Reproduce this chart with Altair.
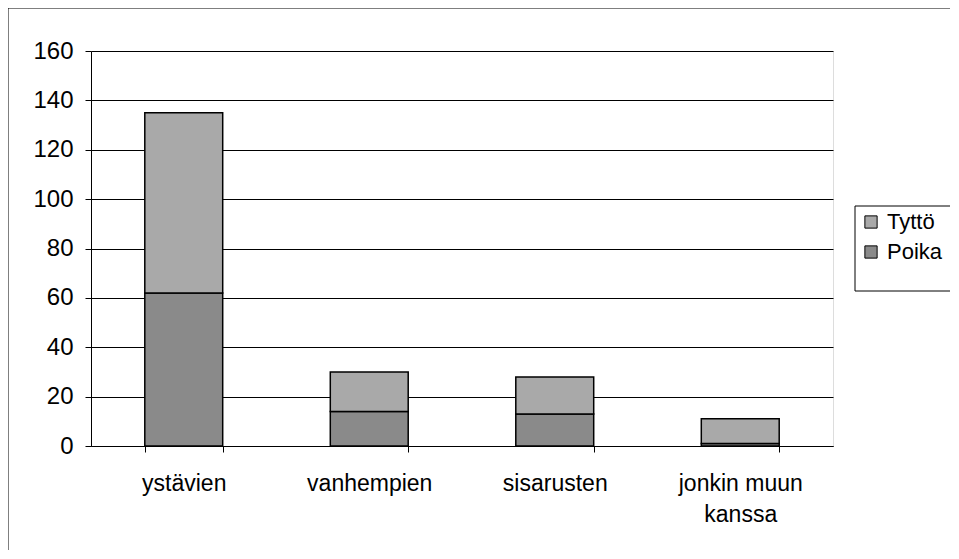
import altair as alt
import pandas as pd

categories = ["ystävien", "vanhempien", "sisarusten", "jonkin muun kanssa"]
poika = [62, 14, 13, 1]
tytto = [73, 16, 15, 10]
series = ["Tyttö", "Poika"]
colors = ["#a9a9a9", "#8a8a8a"]
y_ticks = [0, 20, 40, 60, 80, 100, 120, 140, 160]

rows = []
for c, p, t in zip(categories, poika, tytto):
    rows.append({"kat": c, "sp": "Poika", "n": p, "ord": 0})
    rows.append({"kat": c, "sp": "Tyttö", "n": t, "ord": 1})
df = pd.DataFrame(rows)

W, H = 742, 395
FONT = "Liberation Sans"

bars = alt.Chart(df).mark_bar(stroke="black", strokeWidth=1.5).encode(
    x=alt.X(
        "kat:N",
        sort=categories,
        scale=alt.Scale(paddingInner=0.58, paddingOuter=0.29),
        axis=alt.Axis(
            title=None, labelAngle=0, tickBand="extent", grid=False,
            labelExpr="datum.label == 'jonkin muun kanssa' ? ['jonkin muun', 'kanssa'] : datum.label",
            labelFontSize=23, labelFont=FONT, labelColor="black", labelPadding=20,
            labelLineHeight=31, labelBaseline="top",
            tickSize=6, tickColor="black", domainColor="black",
        ),
    ),
    y=alt.Y(
        "n:Q",
        stack="zero",
        scale=alt.Scale(domain=[0, 160], nice=False),
        axis=alt.Axis(
            title=None, values=y_ticks, grid=True, gridColor="black", gridWidth=1,
            labelFontSize=24, labelFont=FONT, labelColor="black", labelPadding=12,
            tickSize=6, tickColor="black", domainColor="black",
        ),
    ),
    color=alt.Color(
        "sp:N",
        scale=alt.Scale(domain=series, range=colors),
        legend=alt.Legend(
            title=None, orient="none", legendX=769, legendY=160,
            symbolType="square", symbolSize=150, symbolStrokeColor="black",
            symbolStrokeWidth=1, labelFontSize=22, labelFont=FONT,
            labelColor="black", rowPadding=8, labelOffset=5, padding=0,
        ),
    ),
    order=alt.Order("ord:Q", sort="ascending"),
)

one = alt.Data(values=[{}])
legend_box = alt.Chart(one).mark_rect(fill="white", stroke="black", strokeWidth=1).encode(
    x=alt.value(764), x2=alt.value(1000), y=alt.value(155), y2=alt.value(240)
)
border_top = alt.Chart(one).mark_rule(color="black", strokeWidth=1).encode(
    x=alt.value(-83), x2=alt.value(1000), y=alt.value(-43)
)
border_left = alt.Chart(one).mark_rule(color="black", strokeWidth=1).encode(
    x=alt.value(-83), y=alt.value(-43), y2=alt.value(700)
)

chart = alt.layer(legend_box, bars, border_top, border_left).properties(
    width=W, height=H,
    autosize=alt.AutoSizeParams(type="none"),
    padding={"left": 83, "top": 43, "right": 117, "bottom": 104},
).configure_view(stroke="black", strokeWidth=1).configure(background="white")

chart.save("out.html", embed_options={"renderer": "svg", "actions": False})
